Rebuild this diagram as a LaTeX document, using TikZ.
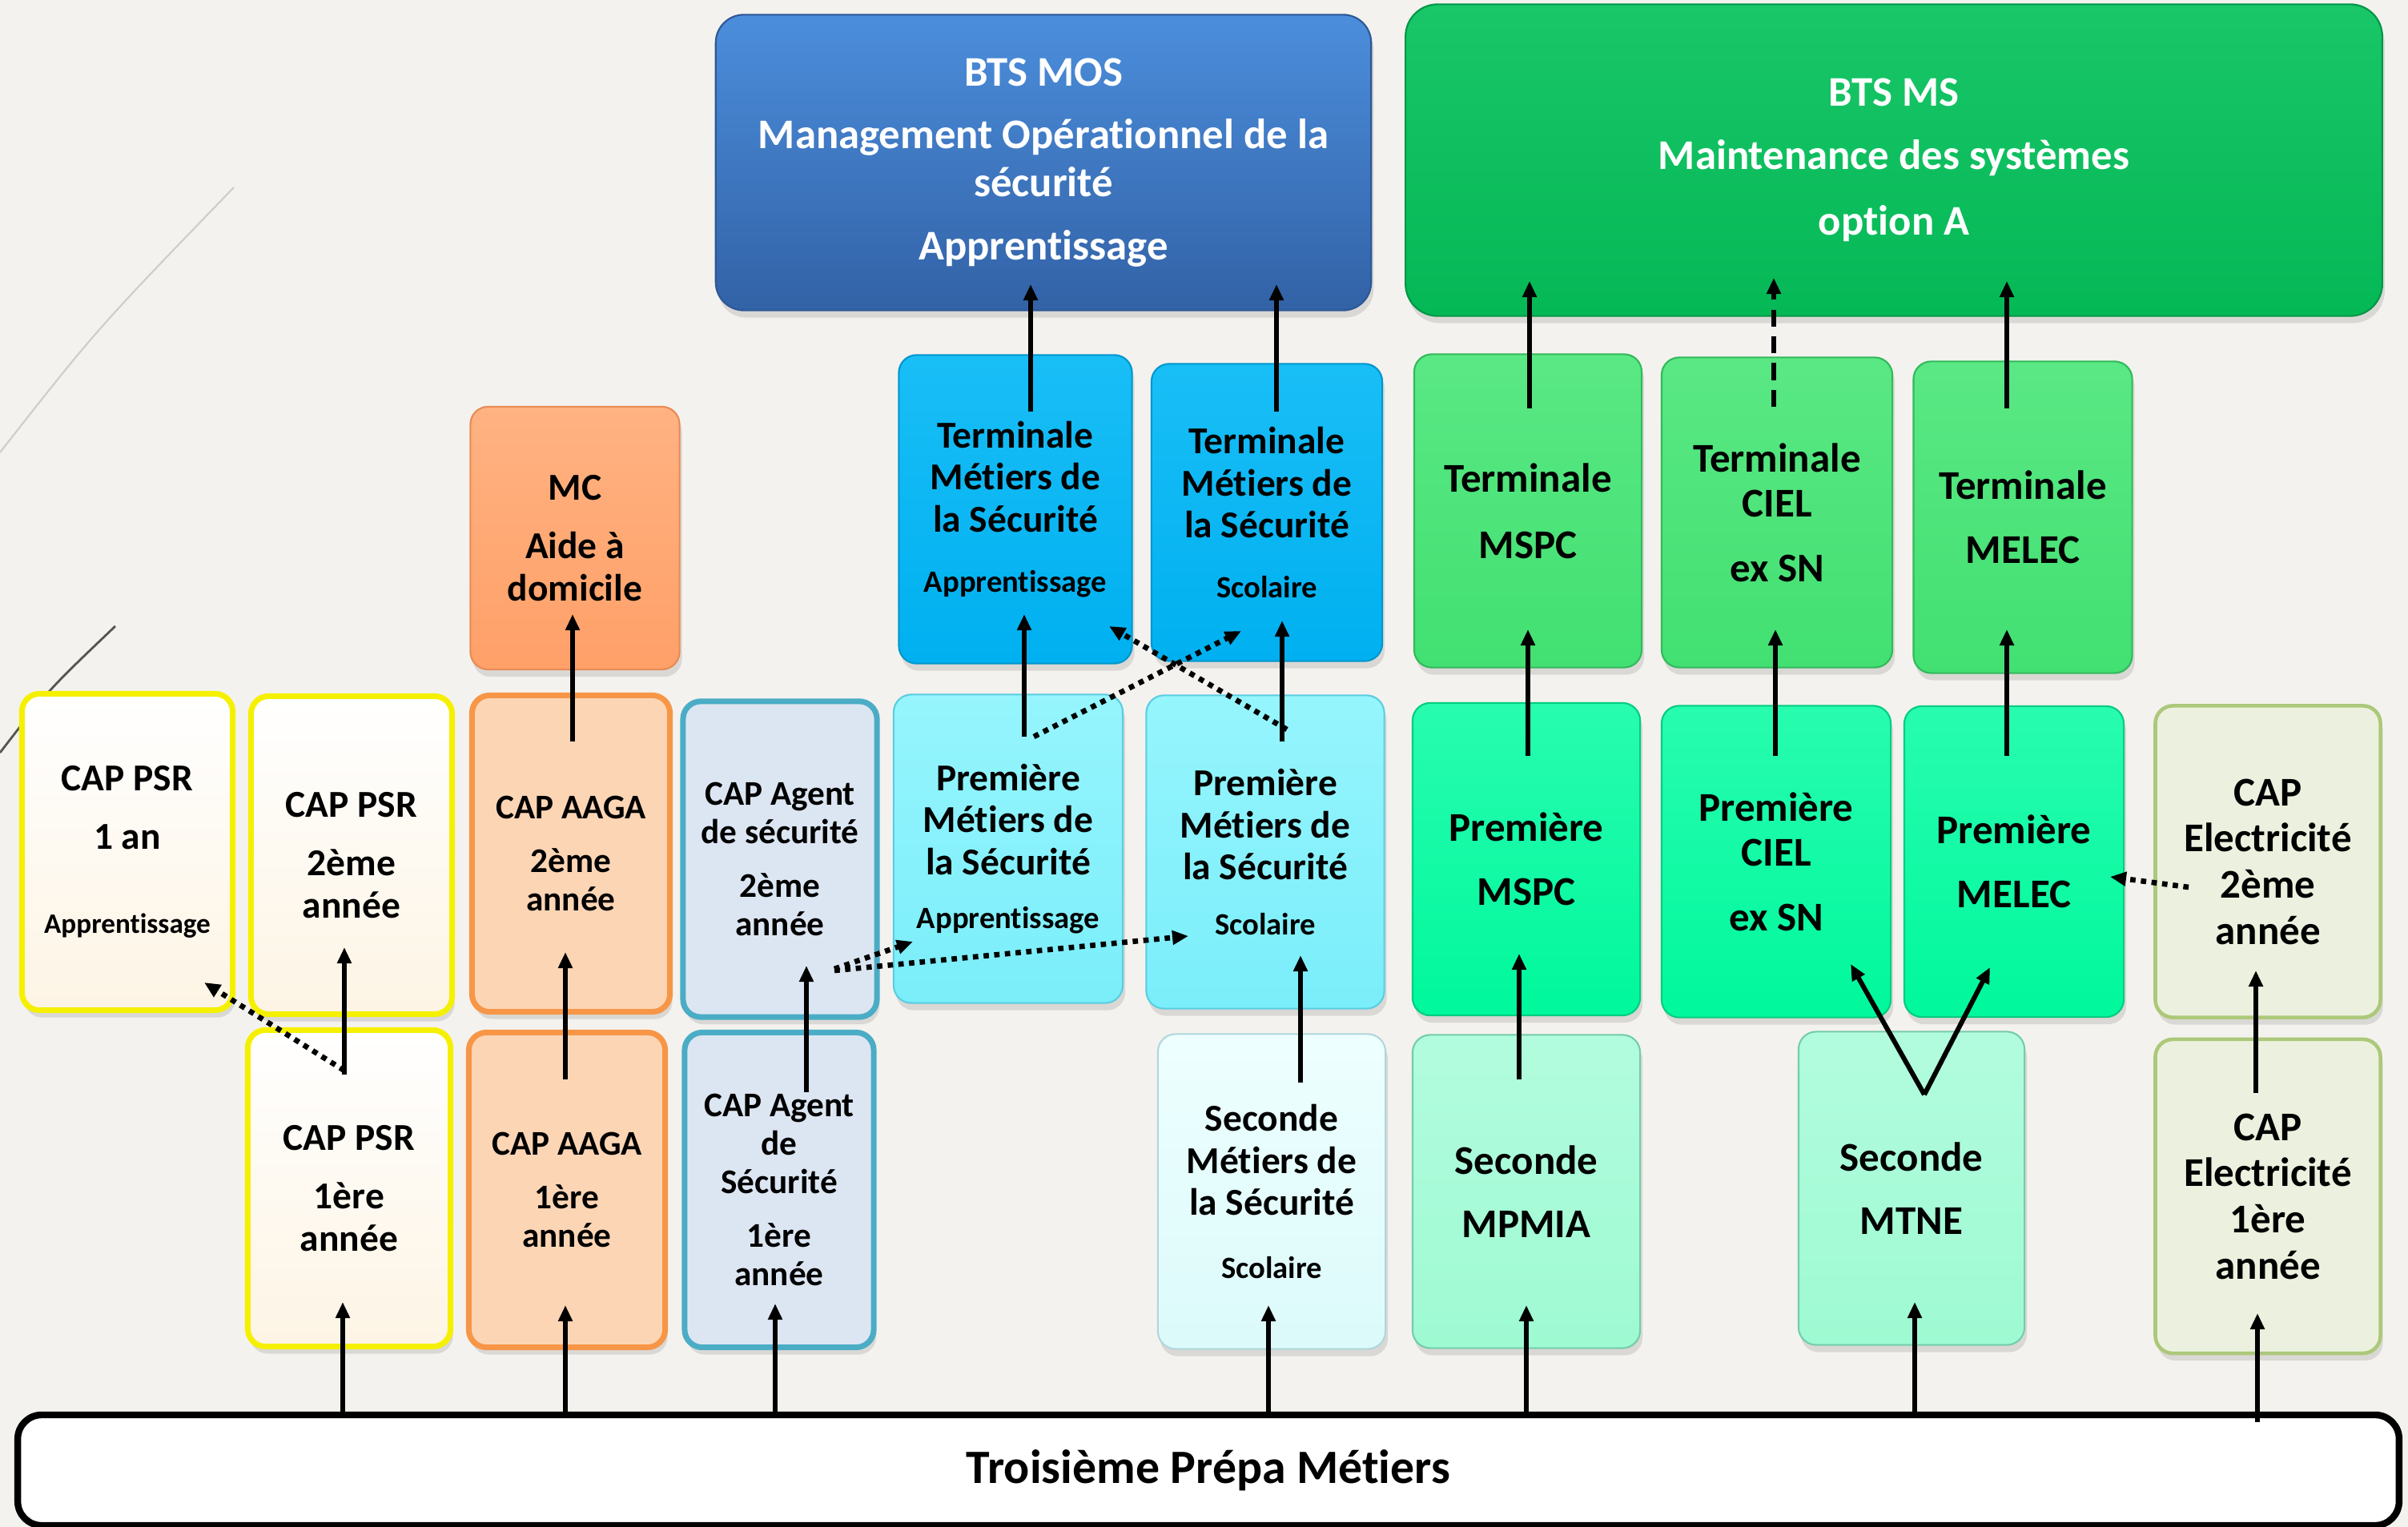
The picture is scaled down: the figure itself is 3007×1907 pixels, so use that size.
\documentclass[tikz,border=0pt]{standalone}
\usepackage{fontspec}
\setmainfont{Carlito}[Ligatures={NoCommon,NoRequired,NoContextual}]
\usetikzlibrary{arrows.meta,calc,shadows}
\definecolor{bgc}{RGB}{244,242,238}
\definecolor{MOSt}{RGB}{76,142,220}
\definecolor{MOSb}{RGB}{50,98,166}
\definecolor{MOSd}{RGB}{45,88,150}
\definecolor{MSt}{RGB}{25,198,104}
\definecolor{MSb}{RGB}{5,184,86}
\definecolor{MSd}{RGB}{0,150,70}
\definecolor{TBt}{RGB}{25,190,246}
\definecolor{TBb}{RGB}{0,176,240}
\definecolor{TBd}{RGB}{0,150,205}
\definecolor{PBt}{RGB}{150,245,253}
\definecolor{PBb}{RGB}{122,238,250}
\definecolor{PBd}{RGB}{90,205,225}
\definecolor{SBt}{RGB}{238,255,255}
\definecolor{SBb}{RGB}{220,250,250}
\definecolor{SBd}{RGB}{175,215,220}
\definecolor{TGt}{RGB}{90,232,132}
\definecolor{TGb}{RGB}{66,224,114}
\definecolor{TGd}{RGB}{50,185,92}
\definecolor{PGt}{RGB}{40,252,175}
\definecolor{PGb}{RGB}{0,248,156}
\definecolor{PGd}{RGB}{0,205,128}
\definecolor{SGt}{RGB}{178,252,222}
\definecolor{SGb}{RGB}{158,250,210}
\definecolor{SGd}{RGB}{115,205,170}
\definecolor{MCt}{RGB}{255,178,130}
\definecolor{MCb}{RGB}{255,160,104}
\definecolor{MCd}{RGB}{232,138,84}
\definecolor{AAf}{RGB}{252,213,181}
\definecolor{AAd}{RGB}{247,150,70}
\definecolor{PSf}{RGB}{253,244,228}
\definecolor{PSd}{RGB}{245,240,0}
\definecolor{AGf}{RGB}{220,230,242}
\definecolor{AGd}{RGB}{75,172,198}
\definecolor{ELf}{RGB}{235,241,222}
\definecolor{ELd}{RGB}{172,200,122}
\newcommand\smlab[1]{{\fontsize{11}{13}\selectfont #1}}
\newcommand\smlabb[1]{{\fontsize{10}{12}\selectfont #1}}
\begin{document}
\begin{tikzpicture}[x=0.01cm,y=-0.01cm,
  bx/.style={rounded corners=0.22cm, inner sep=0pt, align=center, line width=0.6pt,
    drop shadow={shadow xshift=0.03cm, shadow yshift=-0.09cm, opacity=0.22}},
  sz/.style 2 args={minimum width=#1cm, minimum height=#2cm},
  fA/.style={font=\fontsize{13.5}{15}\selectfont\bfseries},
  fB/.style={font=\fontsize{14.5}{16}\selectfont\bfseries},
  fC/.style={font=\fontsize{12.3}{13.6}\selectfont\bfseries},
  fD/.style={font=\fontsize{15}{17}\selectfont\bfseries},
  fE/.style={font=\fontsize{14.5}{16.4}\selectfont\bfseries},
  cMOS/.style={top color=MOSt, bottom color=MOSb, draw=MOSd, text=white},
  cMS/.style={top color=MSt, bottom color=MSb, draw=MSd, text=white},
  cTB/.style={top color=TBt, bottom color=TBb, draw=TBd},
  cPB/.style={top color=PBt, bottom color=PBb, draw=PBd},
  cSB/.style={top color=SBt, bottom color=SBb, draw=SBd},
  cTG/.style={top color=TGt, bottom color=TGb, draw=TGd},
  cPG/.style={top color=PGt, bottom color=PGb, draw=PGd},
  cSG/.style={top color=SGt, bottom color=SGb, draw=SGd},
  cMC/.style={top color=MCt, bottom color=MCb, draw=MCd},
  cAA/.style={fill=AAf, draw=AAd, line width=2pt},
  cPSR/.style={top color=white, bottom color=PSf, draw=PSd, line width=2pt},
  cAG/.style={fill=AGf, draw=AGd, line width=2pt},
  cEL/.style={fill=ELf, draw=ELd, line width=1.3pt},
  trbox/.style={fill=white, draw=black, line width=2.4pt, rounded corners=0.3cm,
    minimum width=29.72cm, minimum height=1.38cm, inner sep=0pt,
    font=\fontsize{17}{19}\selectfont\bfseries},
  arr/.style={line width=1.7pt, -{Triangle[length=0.2cm,width=0.17cm]}},
  dotarr/.style={arr, line width=1.9pt, dash pattern=on 1.9pt off 1.9pt},
  dasharr/.style={arr, dash pattern=on 6pt off 3.5pt}
]
\fill[bgc] (0,0) rectangle (3007,1907);
\path[use as bounding box] (0,0) rectangle (3007,1907);
% background decoration
\draw[color={rgb,255:red,208;green,205;blue,198}, line width=0.6pt] (0,565) .. controls (120,412) .. (292,234);
\draw[color={rgb,255:red,85;green,85;blue,85}, line width=0.8pt] (0,940) .. controls (60,862) .. (144,782);

% boxes
\node[bx, cMOS, fD, sz={8.18}{3.69}, rounded corners=0.35cm] (bmos) at (1303,203) {BTS MOS\\[5.4pt]Management Opérationnel de la\\sécurité\\[5.4pt]Apprentissage};
\node[bx, cMS, fD, sz={12.19}{3.89}, rounded corners=0.4cm] (bms) at (2365,200) {BTS MS\\[5.4pt]Maintenance des systèmes\\[6.5pt]option A};
\node[bx, cTB, fA, sz={2.91}{3.85}] (tapp) at (1268,636) {Terminale\\Métiers de\\la Sécurité\\[6.3pt]\smlab{Apprentissage}};
\node[bx, cTB, fA, sz={2.88}{3.71}] (tsco) at (1582,640) {Terminale\\Métiers de\\la Sécurité\\[6.3pt]\smlab{Scolaire}};
\node[bx, cTG, fB, sz={2.84}{3.91}] (tmspc) at (1908,638) {Terminale\\[7.5pt]MSPC};
\node[bx, cTG, fB, sz={2.88}{3.87}] (tciel) at (2219,640) {Terminale\\CIEL\\[6.9pt]ex SN};
\node[bx, cTG, fB, sz={2.73}{3.89}] (tmelec) at (2526,646) {Terminale\\[6.9pt]MELEC};
\node[bx, cMC, fA, sz={2.61}{3.28}] (mc) at (718,672) {MC\\[5.7pt]Aide à\\domicile};
\node[bx, cPSR, fA, sz={2.63}{3.95}] (psra) at (159,1064) {CAP PSR\\[5.7pt]1 an\\[15pt]\smlabb{Apprentissage}};
\node[bx, cPSR, fA, sz={2.51}{3.97}] (psr2) at (439,1068) {CAP PSR\\[5.7pt]2ème\\année};
\node[bx, cAA, fC, sz={2.47}{3.95}] (aaga2) at (713,1066) {CAP AAGA\\[5.5pt]2ème\\année};
\node[bx, cAG, fC, sz={2.42}{3.94}] (agent2) at (974,1073) {CAP Agent\\de sécurité\\[5.5pt]2ème\\année};
\node[bx, cPB, fA, sz={2.86}{3.85}] (papp) at (1259,1060) {Première\\Métiers de\\la Sécurité\\[4pt]\smlab{Apprentissage}};
\node[bx, cPB, fA, sz={2.97}{3.91}] (psco) at (1580,1064) {Première\\Métiers de\\la Sécurité\\[4.6pt]\smlab{Scolaire}};
\node[bx, cPG, fB, sz={2.84}{3.90}] (pmspc) at (1906,1073) {Première\\[6.9pt]MSPC};
\node[bx, cPG, fB, sz={2.86}{3.89}] (pciel) at (2218,1076) {Première\\CIEL\\[6.9pt]ex SN};
\node[bx, cPG, fB, sz={2.74}{3.88}] (pmelec) at (2515,1076) {Première\\[6.9pt]MELEC};
\node[bx, cEL, fE, sz={2.81}{3.89}] (elec2) at (2832,1076) {CAP\\Electricité\\2ème\\année};
\node[bx, cPSR, fA, sz={2.53}{3.95}] (psr1) at (436,1484) {CAP PSR\\[5.7pt]1ère\\année};
\node[bx, cAA, fC, sz={2.45}{3.93}] (aaga1) at (708,1486) {CAP AAGA\\[5.5pt]1ère\\année};
\node[bx, cAG, fC, sz={2.36}{3.93}] (agent1) at (973,1486) {CAP Agent\\de\\Sécurité\\[5.5pt]1ère\\année};
\node[bx, cSB, fA, sz={2.84}{3.93}] (smdls) at (1588,1488) {Seconde\\Métiers de\\la Sécurité\\[7.4pt]\smlab{Scolaire}};
\node[bx, cSG, fB, sz={2.84}{3.91}] (smpmia) at (1906,1488) {Seconde\\[6.4pt]MPMIA};
\node[bx, cSG, fB, sz={2.82}{3.91}] (smtne) at (2387,1484) {Seconde\\[6.4pt]MTNE};
\node[bx, cEL, fE, sz={2.81}{3.92}] (elec1) at (2832,1494) {CAP\\Electricité\\1ère\\année};
\node[trbox] (trois) at (1509,1836) {Troisième Prépa Métiers};

% arrows from Troisieme
\draw[arr] ($(trois.north)+(-1081,0)$) -- ($(psr1)+(-8,142)$);
\draw[arr] ($(trois.north)+(-803,0)$) -- ($(aaga1)+(-2,144)$);
\draw[arr] ($(trois.north)+(-541,0)$) -- ($(agent1)+(-5,142)$);
\draw[arr] ($(trois.north)+(75,0)$) -- ($(smdls)+(-4,142)$);
\draw[arr] ($(trois.north)+(397,0)$) -- ($(smpmia)+(0,142)$);
\draw[arr] ($(trois.north)+(882,0)$) -- ($(smtne)+(4,142)$);
\draw[arr] ($(trois.north)+(1310,13)$) -- ($(elec1)+(-13,146)$);
% CAP progressions
\draw[arr] ($(psr1)+(-6,-142)$) -- ($(psr2)+(-9,115)$);
\draw[dotarr] ($(psr1)+(-6,-147)$) -- ($(psra)+(96,163)$);
\draw[arr] ($(aaga1)+(-2,-138)$) -- ($(aaga2)+(-7,123)$);
\draw[arr] ($(aaga2)+(2,-140)$) -- ($(mc)+(-3,95)$);
\draw[arr] ($(agent1)+(34,-122)$) -- ($(agent2)+(33,133)$);
\draw[dotarr] ($(agent2)+(68,137)$) -- ($(papp)+(-119,116)$);
\draw[dotarr] ($(agent2)+(68,139)$) -- ($(psco)+(-96,105)$);
% securite
\draw[arr] ($(papp)+(20,-140)$) -- ($(tapp)+(11,131)$);
\draw[dotarr] ($(papp)+(32,-140)$) -- ($(tsco)+(-32,148)$);
\draw[dotarr] ($(psco)+(27,-153)$) -- ($(tapp)+(117,146)$);
\draw[arr] ($(psco)+(21,-138)$) -- ($(tsco)+(19,135)$);
\draw[arr] ($(smdls)+(36,-136)$) -- ($(psco)+(44,129)$);
\draw[arr] ($(tapp)+(19,-122)$) -- ($(bmos)+(-16,152)$);
\draw[arr] ($(tsco)+(12,-126)$) -- ($(bmos)+(291,152)$);
% maintenance
\draw[arr] ($(tmspc)+(2,-128)$) -- ($(bms)+(-455,151)$);
\draw[dasharr] ($(tciel)+(-4,-132)$) -- ($(bms)+(-150,147)$);
\draw[arr] ($(tmelec)+(-20,-136)$) -- ($(bms)+(141,151)$);
\draw[arr] ($(pmspc)+(2,-129)$) -- ($(tmspc)+(0,148)$);
\draw[arr] ($(pciel)+(-1,-132)$) -- ($(tciel)+(-2,146)$);
\draw[arr] ($(pmelec)+(-9,-132)$) -- ($(tmelec)+(-20,140)$);
\draw[arr] ($(smpmia)+(-9,-140)$) -- ($(pmspc)+(-9,118)$);
\draw[arr] ($(smtne)+(16,-117)$) -- ($(pciel)+(93,128)$);
\draw[arr] ($(smtne)+(16,-117)$) -- ($(pmelec)+(-30,132)$);
\draw[dotarr] ($(elec2)+(-99,32)$) -- ($(pmelec)+(120,19)$);
\draw[arr] ($(elec1)+(-15,-129)$) -- ($(elec2)+(-15,136)$);
\end{tikzpicture}
\end{document}
